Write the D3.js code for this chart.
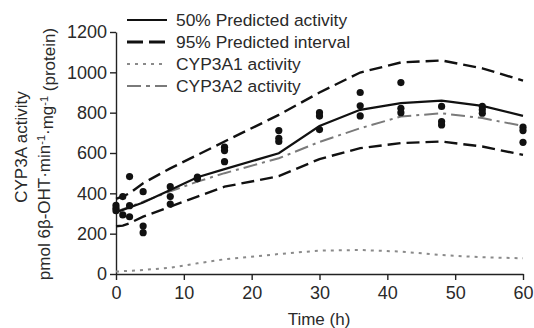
<!DOCTYPE html>
<html>
<head>
<meta charset="utf-8">
<script src="https://cdn.jsdelivr.net/npm/d3@7"></script>
<style>
  html, body { margin: 0; padding: 0; background: #fff; }
  svg { display: block; font-family: "Liberation Sans", Arial, sans-serif; }
</style>
</head>
<body>
<svg id="chart" width="534" height="328"></svg>
<script>
// ---- data ----
const lineTimes = [0, 1, 2, 4, 8, 12, 16, 24, 30, 36, 42, 48, 54, 60];
const median50 = [306, 318, 330, 355, 417, 480, 520, 599, 734, 814, 847, 860, 834, 784];
const upper95 = [372, 385, 400, 450, 524, 590, 657, 789, 900, 999, 1049, 1059, 1020, 959];
const lower95 = [237, 240, 252, 284, 334, 384, 433, 485, 570, 624, 649, 657, 632, 591];
const cyp3a2 = [309, 321, 333, 358, 410, 458, 500, 574, 655, 723, 781, 797, 773, 734];
const cyp3a1 = [12, 14, 16, 20, 31, 53, 73, 99, 116, 119, 111, 94, 83, 78];

const obsTimes = [0, 0, 0, 1, 1, 2, 2, 2, 4, 4, 4, 8, 8, 8, 12, 12, 16, 16, 16,
  24, 24, 24, 30, 30, 30, 36, 36, 36, 42, 42, 42, 48, 48, 48, 54, 54, 54, 60, 60, 60];
const obsValues = [340, 326, 314, 384, 293, 483, 339, 284, 408, 238, 205, 433, 384, 347, 480, 472, 629, 612, 557,
  711, 673, 657, 800, 783, 716, 900, 834, 784, 949, 822, 800, 831, 756, 739, 831, 814, 797, 728, 711, 653];

const xTicks = [0, 10, 20, 30, 40, 50, 60];
const yTicks = [0, 200, 400, 600, 800, 1000, 1200];

const legendLabels = ["50% Predicted activity", "95% Predicted interval", "CYP3A1 activity", "CYP3A2 activity"];

// ---- drawing ----
const svg = d3.select("#chart");
const x = d3.scaleLinear().domain([0, 60]).range([116, 523]);
const y = d3.scaleLinear().domain([0, 1200]).range([274, 32]);

const styles = {
  median: { stroke: "#111", width: 2.2, dash: null },
  interval: { stroke: "#111", width: 2.4, dash: "13,6" },
  a1: { stroke: "#8a8a8a", width: 2, dash: "3,5" },
  a2: { stroke: "#7a7a7a", width: 2, dash: "14,5,3,5" }
};

const gx = svg.append("g").attr("transform", "translate(0,274)")
  .call(d3.axisBottom(x).tickValues(xTicks).tickFormat(d3.format("d")).tickSize(6).tickSizeOuter(0).tickPadding(6));
const gy = svg.append("g").attr("transform", "translate(116,0)")
  .call(d3.axisLeft(y).tickValues(yTicks).tickFormat(d3.format("d")).tickSize(6).tickSizeOuter(0).tickPadding(3));
[gx, gy].forEach(g => {
  g.selectAll("path, line").attr("stroke", "#222").attr("stroke-width", 1.4);
  g.selectAll("text").attr("fill", "#2a2a2a").style("font-size", "18px")
    .style("font-family", '"Liberation Sans", Arial, sans-serif');
});

const lineGen = vals => d3.line().x((d, i) => x(lineTimes[i])).y(d => y(d))(vals);

function drawLine(vals, st) {
  svg.append("path").attr("d", lineGen(vals)).attr("fill", "none")
    .attr("stroke", st.stroke).attr("stroke-width", st.width)
    .attr("stroke-dasharray", st.dash);
}
drawLine(cyp3a1, styles.a1);
drawLine(cyp3a2, styles.a2);
drawLine(lower95, styles.interval);
drawLine(upper95, styles.interval);
drawLine(median50, styles.median);

svg.append("g").selectAll("circle").data(obsValues).join("circle")
  .attr("cx", (d, i) => x(obsTimes[i])).attr("cy", d => y(d))
  .attr("r", 3.6).attr("fill", "#111");

// legend
const legStyles = [styles.median, styles.interval, styles.a1, styles.a2];
const legY = [20, 42, 64, 86];
const leg = svg.append("g");
legendLabels.forEach((lab, i) => {
  const st = legStyles[i];
  leg.append("line").attr("x1", 127).attr("x2", 167).attr("y1", legY[i]).attr("y2", legY[i])
    .attr("stroke", st.stroke).attr("stroke-width", st.width + (i === 1 ? 0.4 : 0))
    .attr("stroke-dasharray", i === 1 ? "16,6" : (i === 3 ? "14,5,4,5" : st.dash));
  leg.append("text").attr("x", 176).attr("y", legY[i]).attr("dy", "0.35em")
    .attr("fill", "#2a2a2a").style("font-size", "17.4px").text(lab);
});

// axis titles
svg.append("text").attr("x", 319).attr("y", 319).attr("dy", "0.35em")
  .attr("text-anchor", "middle").attr("fill", "#2a2a2a").style("font-size", "17px").text("Time (h)");

svg.append("text").attr("transform", "translate(21,147) rotate(-90)")
  .attr("text-anchor", "middle").attr("dy", "0.35em").attr("fill", "#2a2a2a")
  .style("font-size", "17px").text("CYP3A activity");

const yl2 = svg.append("text").attr("transform", "translate(44,154) rotate(-90)")
  .attr("text-anchor", "middle").attr("dy", "0.35em").attr("fill", "#2a2a2a")
  .style("font-size", "17px");
yl2.append("tspan").text("pmol 6β-OHT·min");
yl2.append("tspan").attr("dy", "-0.45em").style("font-size", "11px").text("-1");
yl2.append("tspan").attr("dy", "0.45em").text("·mg");
yl2.append("tspan").attr("dy", "-0.45em").style("font-size", "11px").text("-1");
yl2.append("tspan").attr("dy", "0.45em").text(" (protein)");
</script>
</body>
</html>
